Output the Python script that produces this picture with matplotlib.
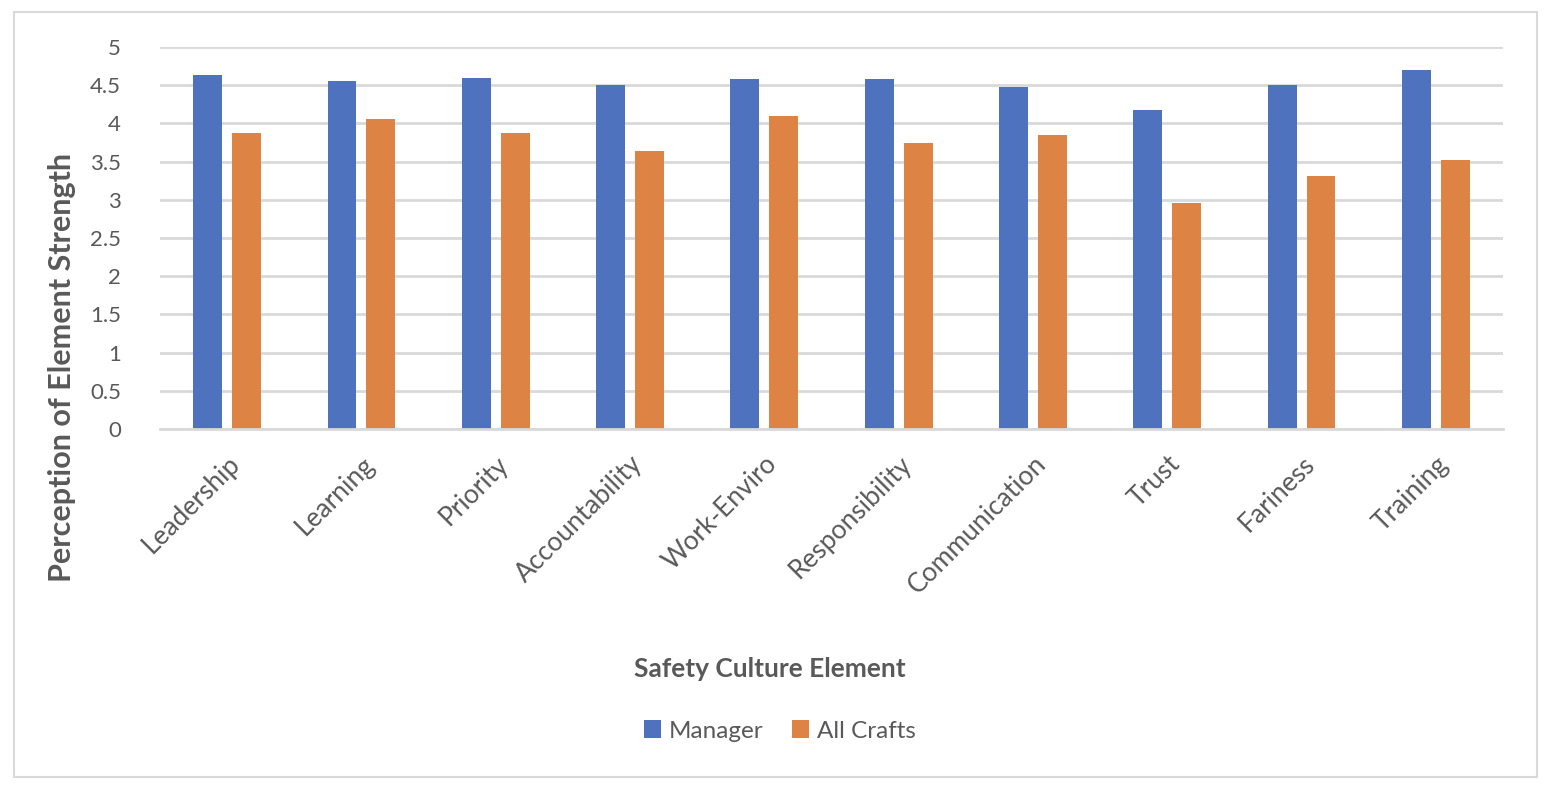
import matplotlib
matplotlib.use("Agg")
import matplotlib.pyplot as plt
import numpy as np
from matplotlib.patches import Rectangle

categories = ["Leadership", "Learning", "Priority", "Accountability", "Work-Enviro",
              "Responsibility", "Communication", "Trust", "Fariness", "Training"]
manager = [4.64, 4.55, 4.60, 4.50, 4.58, 4.58, 4.47, 4.18, 4.50, 4.70]
all_crafts = [3.87, 4.06, 3.87, 3.64, 4.10, 3.74, 3.85, 2.96, 3.31, 3.52]
yticks = [0, 0.5, 1, 1.5, 2, 2.5, 3, 3.5, 4, 4.5, 5]
ytick_labels = ["0", "0.5", "1", "1.5", "2", "2.5", "3", "3.5", "4", "4.5", "5"]

plt.rcParams['font.family'] = ['Lato', 'DejaVu Sans']
text_color = "#595959"
blue = "#4f72be"
orange = "#dd8344"

fig = plt.figure(figsize=(15.46, 7.90), dpi=100)
ax = fig.add_axes([160/1546, 1-429/790, (1503-160)/1546, (429-47)/790])

x = np.arange(len(categories))
w = 0.215
ax.bar(x - 0.145, manager, width=w, color=blue, label="Manager", zorder=3)
ax.bar(x + 0.145, all_crafts, width=w, color=orange, label="All Crafts", zorder=3)

ax.set_xlim(-0.5, len(categories) - 0.5)
ax.set_ylim(0, 5)
ax.set_yticks(yticks)
ax.set_yticklabels(ytick_labels, fontsize=16, color=text_color)
ax.set_xticks(x)
ax.set_xticklabels(categories, rotation=45, ha="right", rotation_mode="anchor",
                   fontsize=19, color=text_color)
ax.tick_params(axis="both", length=0)
ax.tick_params(axis="y", pad=28)
ax.tick_params(axis="x", pad=16)
ax.grid(axis="y", color="#d9d9d9", linewidth=2, zorder=0)
for s in ["top", "right", "left"]:
    ax.spines[s].set_visible(False)
ax.spines["bottom"].set_color("#d9d9d9")
ax.spines["bottom"].set_linewidth(2)
ax.spines["bottom"].set_zorder(4)

fig.text(62/1546, 1-367/790, "Perception of Element Strength", rotation=90,
         ha="center", va="center", fontsize=22, fontweight="bold", color=text_color)
fig.text(770/1546, 1-669/790, "Safety Culture Element", ha="center", va="center",
         fontsize=19, fontweight="bold", color=text_color)

leg = fig.legend(loc="center", bbox_to_anchor=(780/1546, 1-731/790), ncol=2,
                 frameon=False, fontsize=17.5, handlelength=0.7, handleheight=0.7,
                 handletextpad=0.3, columnspacing=1.2)
for t in leg.get_texts():
    t.set_color(text_color)

fig.patches.append(Rectangle((14/1546, 1-777/790), (1537-14)/1546, (777-12)/790,
                             transform=fig.transFigure, fill=False,
                             edgecolor="#d9d9d9", linewidth=1.5))

fig.savefig("out.png", dpi=100)
